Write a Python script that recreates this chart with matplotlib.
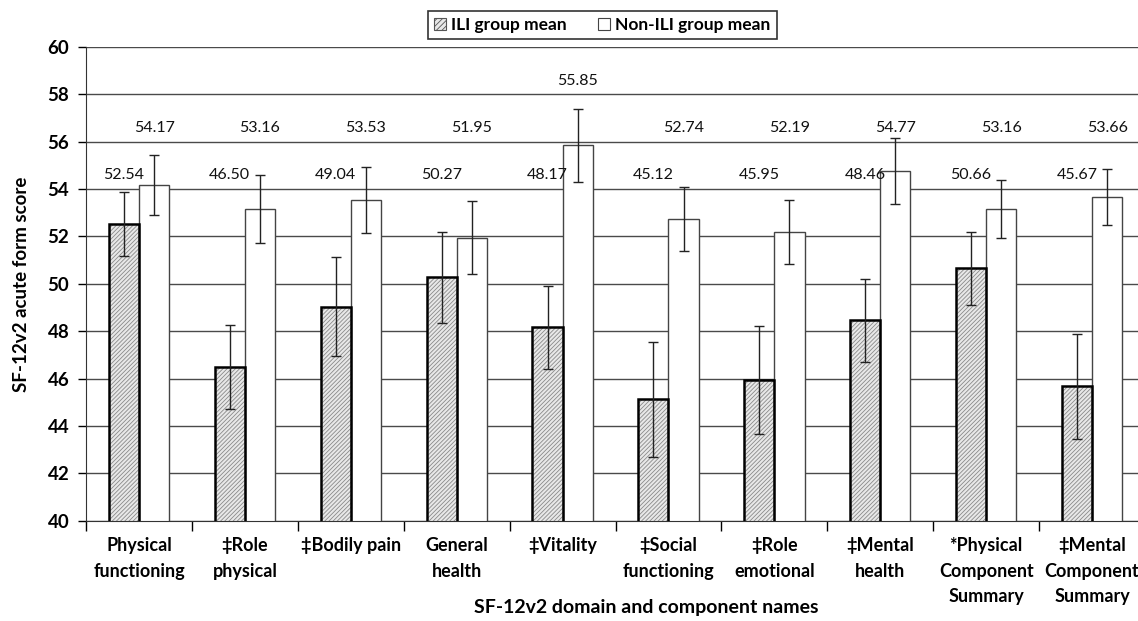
import numpy as np
import matplotlib
matplotlib.use("Agg")
import matplotlib.pyplot as plt
from matplotlib.patches import Patch

plt.rcParams["font.family"] = ["Lato", "DejaVu Sans"]
plt.rcParams["hatch.linewidth"] = 0.6

categories = ["Physical\nfunctioning", "\u2021Role\nphysical", "\u2021Bodily pain",
              "General\nhealth", "\u2021Vitality", "\u2021Social\nfunctioning",
              "\u2021Role\nemotional", "\u2021Mental\nhealth",
              "*Physical\nComponent\nSummary", "\u2021Mental\nComponent\nSummary"]
ili_mean = [52.54, 46.50, 49.04, 50.27, 48.17, 45.12, 45.95, 48.46, 50.66, 45.67]
non_ili_mean = [54.17, 53.16, 53.53, 51.95, 55.85, 52.74, 52.19, 54.77, 53.16, 53.66]
ili_err = [1.35, 1.78, 2.09, 1.92, 1.75, 2.42, 2.28, 1.76, 1.55, 2.20]
non_ili_err = [1.28, 1.44, 1.40, 1.55, 1.53, 1.37, 1.36, 1.38, 1.23, 1.19]

fig = plt.figure(figsize=(11.38, 6.21), dpi=100)
ax = fig.add_axes([0.0756, 0.1615, 0.9306, 0.7628])

x = np.arange(len(categories))
w = 0.285

# ILI bars: hatch layer then black outline
ax.bar(x - w / 2, ili_mean, w, color="#e8e8e8", edgecolor="#8a8a8a",
       hatch="////////", linewidth=0, zorder=2)
ax.bar(x - w / 2, ili_mean, w, fill=False, edgecolor="black", linewidth=1.8, zorder=3)
ax.bar(x + w / 2, non_ili_mean, w, color="white", edgecolor="#444444",
       linewidth=1.0, zorder=2)

ax.errorbar(x - w / 2, ili_mean, yerr=ili_err, fmt="none", ecolor="#222222",
            elinewidth=1.0, capsize=3.5, capthick=1.0, zorder=4)
ax.errorbar(x + w / 2, non_ili_mean, yerr=non_ili_err, fmt="none", ecolor="#222222",
            elinewidth=1.0, capsize=3.5, capthick=1.0, zorder=4)

for i in range(len(categories)):
    ax.text(x[i] - w / 2, 54.6, f"{ili_mean[i]:.2f}", ha="center", va="center",
            fontsize=11.5, color="#111111", zorder=5)
    top = non_ili_mean[i] + non_ili_err[i]
    y_lab = 56.6 if top < 56.3 else top + 1.2
    ax.text(x[i] + w / 2, y_lab, f"{non_ili_mean[i]:.2f}", ha="center", va="center",
            fontsize=11.5, color="#111111", zorder=5)

ax.set_ylim(40, 60)
ax.set_xlim(-0.5, len(categories) - 0.5)
ax.set_yticks(np.arange(40, 61, 2))
ax.tick_params(axis="y", labelsize=13.5, length=6, width=1, direction="out", pad=6)
for lab in ax.get_yticklabels():
    lab.set_fontweight("bold")
ax.yaxis.grid(True, color="#4a4a4a", linewidth=1.0, zorder=0)
ax.set_axisbelow(True)

ax.set_xticks(np.arange(-0.5, len(categories), 1.0))
ax.set_xticklabels([])
ax.set_xticks(x, minor=True)
ax.set_xticklabels(categories, minor=True, fontsize=13, fontweight="bold",
                   linespacing=1.6, va="top")
ax.tick_params(axis="x", which="major", length=7, width=1, direction="out")
ax.tick_params(axis="x", which="minor", length=0, pad=12)

for s in ["top", "right"]:
    ax.spines[s].set_visible(False)
ax.spines["left"].set_color("#333333")
ax.spines["bottom"].set_color("#333333")

ax.set_ylabel("SF-12v2 acute form score", fontsize=13.5, fontweight="bold", labelpad=13)
fig.text(646 / 1138, 1 - 607 / 621, "SF-12v2 domain and component names",
         ha="center", va="center", fontsize=14, fontweight="bold")

handles = [Patch(facecolor="#e8e8e8", edgecolor="#555555", hatch="//////", linewidth=0.8),
           Patch(facecolor="white", edgecolor="#444444", linewidth=0.8)]
leg = fig.legend(handles, ["ILI group mean", "Non-ILI group mean"], loc="center",
                 bbox_to_anchor=(602 / 1138, 1 - 25 / 621), ncol=2, frameon=True,
                 fancybox=False, edgecolor="black", handlelength=0.7, handleheight=0.7,
                 handletextpad=0.3, columnspacing=1.8, borderpad=0.35,
                 prop={"weight": "bold", "size": 12.5})
leg.get_frame().set_linewidth(1.2)

fig.savefig("out.png", dpi=100)
